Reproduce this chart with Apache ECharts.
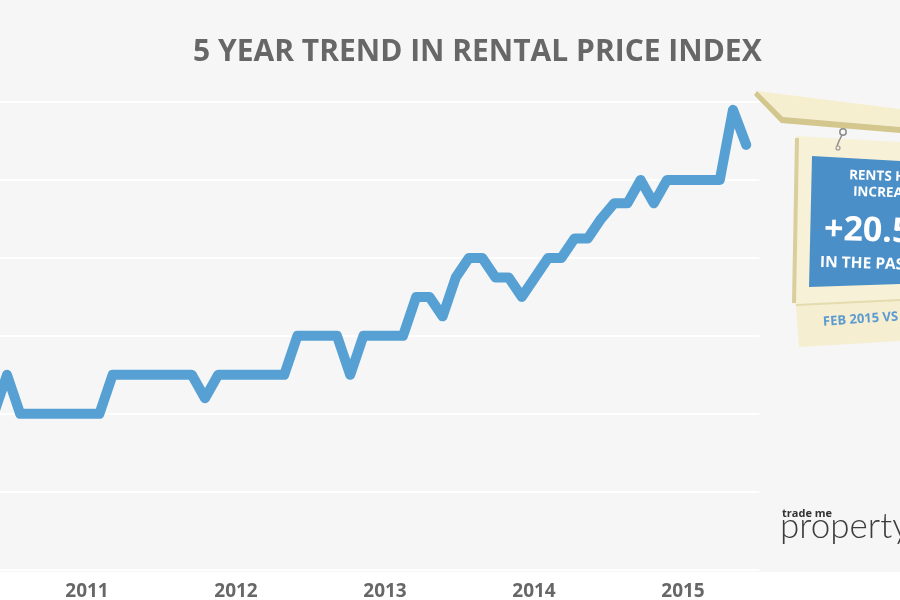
<!DOCTYPE html>
<html>
<head>
<meta charset="utf-8">
<script src="https://cdn.jsdelivr.net/npm/echarts@6/dist/echarts.min.js"></script>
<style>
html,body{margin:0;padding:0;background:#fff;}
#chart{width:900px;height:600px;}
</style>
</head>
<body>
<div id="chart"></div>
<script>
// Monthly points, May 2010 .. Feb 2015 (left edge of the picture is cropped)
const months = [
  '2010-05','2010-06','2010-07','2010-08','2010-09','2010-10','2010-11','2010-12',
  '2011-01','2011-02','2011-03','2011-04','2011-05','2011-06','2011-07','2011-08','2011-09','2011-10','2011-11','2011-12',
  '2012-01','2012-02','2012-03','2012-04','2012-05','2012-06','2012-07','2012-08','2012-09','2012-10','2012-11','2012-12',
  '2013-01','2013-02','2013-03','2013-04','2013-05','2013-06','2013-07','2013-08','2013-09','2013-10','2013-11','2013-12',
  '2014-01','2014-02','2014-03','2014-04','2014-05','2014-06','2014-07','2014-08','2014-09','2014-10','2014-11','2014-12',
  '2015-01','2015-02'
];
const rentIndex = [
  350, 355, 350, 350, 350, 350, 350, 350,
  350, 355, 355, 355, 355, 355, 355, 355, 352, 355, 355, 355,
  355, 355, 355, 360, 360, 360, 360, 355, 360, 360, 360, 360,
  365, 365, 362.5, 367.5, 370, 370, 367.5, 367.5, 365, 367.5, 370, 370,
  372.5, 372.5, 375, 377, 377, 380, 377, 380, 380, 380, 380, 380,
  389, 384.5
];
const yearLabels = ['2011', '2012', '2013', '2014', '2015'];
const yMin = 330, yMax = 390, yStep = 10;

const titleText = '5 YEAR TREND IN RENTAL PRICE INDEX';
const signLines = ['RENTS HAVE', 'INCREASED', '+20.5%', 'IN THE PAST 5 YEARS'];
const signFooter = 'FEB 2015 VS FEB 2010';

const chart = echarts.init(document.getElementById('chart'));

const lineData = months.map((m, i) => [i, rentIndex[i]]);

const gray = '#676767';
const cream = '#f7f1d7';
const khaki = '#d3c78d';
const signBlue = '#4a8fc8';

const option = {
  animation: false,
  backgroundColor: {
    type: 'linear', x: 0, y: 0, x2: 0, y2: 1,
    colorStops: [
      { offset: 0, color: '#f6f6f6' },
      { offset: 0.953, color: '#f6f6f6' },
      { offset: 0.953, color: '#ffffff' },
      { offset: 1, color: '#ffffff' }
    ]
  },
  title: {
    text: titleText,
    left: 193,
    top: 37,
    padding: 0,
    textStyle: { fontFamily: 'Open Sans', fontWeight: 'bold', fontSize: 30, color: gray }
  },
  grid: [
    { left: -6.2, right: 140.6, top: 102, bottom: 30.3, outerBoundsMode: 'none', containLabel: false },
    { left: 12.5, right: 142.5, top: 102, bottom: 30.3, outerBoundsMode: 'none', containLabel: false }
  ],
  xAxis: [
    {
      type: 'value', gridIndex: 0, min: 0, max: months.length,
      axisLine: { show: false }, axisTick: { show: false },
      axisLabel: { show: false }, splitLine: { show: false }
    },
    {
      type: 'category', gridIndex: 1, data: yearLabels, boundaryGap: true,
      axisLine: { show: false }, axisTick: { show: false }, splitLine: { show: false },
      axisLabel: { margin: 12, fontFamily: 'Open Sans', fontWeight: 'bold', fontSize: 19, color: gray }
    }
  ],
  yAxis: [
    {
      type: 'value', gridIndex: 0, min: yMin, max: yMax, interval: yStep,
      axisLine: { show: false }, axisTick: { show: false }, axisLabel: { show: false },
      splitLine: { show: true, lineStyle: { color: '#ffffff', width: 2 } }
    },
    {
      type: 'value', gridIndex: 1, min: yMin, max: yMax, show: false,
      splitLine: { show: false }
    }
  ],
  series: [
    {
      type: 'line',
      name: 'Rental price index',
      xAxisIndex: 0, yAxisIndex: 0,
      data: lineData,
      symbol: 'none',
      smooth: false,
      clip: false,
      lineStyle: { color: '#56a0d3', width: 10, join: 'round', cap: 'round' },
      z: 3
    }
  ],
  graphic: [
    // hanging board
    { type: 'polygon', shape: { points: [[796,136],[900,142],[900,300],[793,304]] }, style: { fill: cream }, z: 10 },
    { type: 'polygon', shape: { points: [[795,138],[799,138],[796,303],[792,303]] }, style: { fill: '#d9cf9c' }, z: 11 },
    // lower plank
    { type: 'polygon', shape: { points: [[796,305],[900,300],[900,341],[799,347]] }, style: { fill: '#f5eed1' }, z: 10 },
    { type: 'polyline', shape: { points: [[796,305],[900,300]] }, style: { stroke: '#e4dbae', lineWidth: 2 }, z: 11 },
    // blue panel
    { type: 'polygon', shape: { points: [[812,156],[900,161],[900,284],[809,287]] }, style: { fill: signBlue }, z: 12 },
    // beam
    { type: 'polygon', shape: { points: [[757,91],[900,109],[900,127],[783,117]] }, style: { fill: '#f6efcf' }, z: 13 },
    { type: 'polygon', shape: { points: [[757,91],[783,117],[900,127],[900,133],[781,123],[754,95]] }, style: { fill: khaki }, z: 13 },
    // chain
    { type: 'circle', shape: { cx: 843, cy: 132, r: 3.2 }, style: { fill: 'none', stroke: '#8c8c8c', lineWidth: 1.5 }, z: 14 },
    { type: 'polyline', shape: { points: [[842,135],[839,141],[837,146]] }, style: { stroke: '#8c8c8c', lineWidth: 1.5 }, z: 14 },
    { type: 'circle', shape: { cx: 838, cy: 148, r: 2 }, style: { fill: 'none', stroke: '#9a9a9a', lineWidth: 1.2 }, z: 14 },
    // panel texts
    { type: 'text', x: 849, y: 175.5, rotation: -0.03, style: { text: signLines[0], fill: '#ffffff', font: 'bold 13.5px "Open Sans"', textVerticalAlign: 'middle' }, z: 15 },
    { type: 'text', x: 853, y: 192, rotation: -0.03, style: { text: signLines[1], fill: '#ffffff', font: 'bold 13.5px "Open Sans"', textVerticalAlign: 'middle' }, z: 15 },
    { type: 'text', x: 824, y: 230, rotation: -0.03, style: { text: signLines[2], fill: '#ffffff', font: 'bold 34px "Open Sans"', textVerticalAlign: 'middle' }, z: 15 },
    { type: 'text', x: 820, y: 262.5, rotation: -0.03, style: { text: signLines[3], fill: '#ffffff', font: 'bold 15.5px "Open Sans"', textVerticalAlign: 'middle' }, z: 15 },
    { type: 'text', x: 823, y: 322, rotation: 0.07, style: { text: signFooter, fill: '#5b9bd0', font: 'bold 13px "Open Sans"', textVerticalAlign: 'middle' }, z: 15 },
    // logo
    { type: 'text', x: 782, y: 513.5, style: { text: 'trade me', fill: '#333333', font: 'bold 11px "Open Sans"', textVerticalAlign: 'middle' }, z: 15 },
    { type: 'text', x: 780, y: 527, style: { text: 'property', fill: '#3c3c3c', font: '300 35px Lato', textVerticalAlign: 'middle' }, z: 15 }
  ]
};
chart.setOption(option);
</script>
</body>
</html>
